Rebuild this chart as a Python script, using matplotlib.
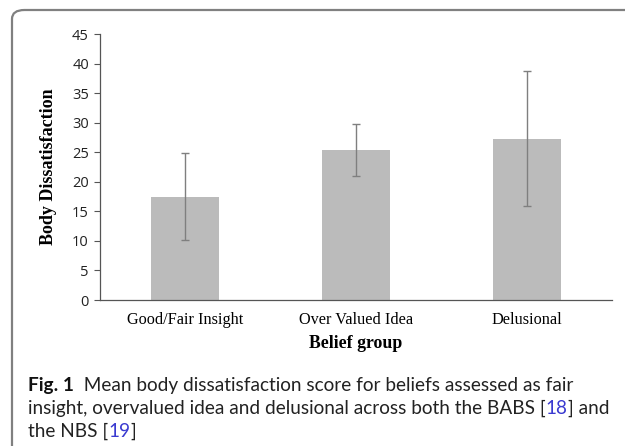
import matplotlib
matplotlib.use("Agg")
import matplotlib.pyplot as plt
from matplotlib.patches import FancyBboxPatch

categories = ["Good/Fair Insight", "Over Valued Idea", "Delusional"]
means = [17.5, 25.4, 27.3]
errors = [7.3, 4.4, 11.4]
yticks = [0, 5, 10, 15, 20, 25, 30, 35, 40, 45]

W, H = 625, 446
fig = plt.figure(figsize=(W / 100, H / 100), dpi=100)

def fx(px):
    return px / W

def fy(py):
    return 1 - py / H

# border box with rounded corner
box = FancyBboxPatch((fx(12), fy(480)), fx(700), (480 - 10) / H,
                     boxstyle="round,pad=0,rounding_size=0.02",
                     transform=fig.transFigure, fill=False,
                     edgecolor="#808080", linewidth=1.6, clip_on=False)
fig.patches.append(box)

ax = fig.add_axes([fx(100), fy(300), 512 / W, 266 / H])
x = range(len(categories))
ax.bar(x, means, width=0.4, color="#bbbbbb", zorder=2)
ax.errorbar(x, means, yerr=errors, fmt="none", ecolor="#7f7f7f",
            elinewidth=1.0, capsize=3, capthick=1.0, zorder=3)
ax.set_xlim(-0.5, 2.5)
ax.set_ylim(0, 45)
ax.set_yticks(yticks)
ax.set_yticklabels([str(t) for t in yticks], family="Open Sans", fontsize=10.5, color="#222222")
ax.set_xticks(list(x))
ax.set_xticklabels(categories, family="Liberation Serif", fontsize=11.7)
ax.tick_params(axis="x", length=0, pad=9)
ax.tick_params(axis="y", length=4, width=0.8, color="#555555", pad=4)
for s in ["top", "right"]:
    ax.spines[s].set_visible(False)
for s in ["left", "bottom"]:
    ax.spines[s].set_color("#555555")
    ax.spines[s].set_linewidth(0.9)
ax.set_ylabel("Body Dissatisfaction", family="Liberation Serif", fontweight="bold",
              fontsize=13, labelpad=11)
ax.set_xlabel("Belief group", family="Liberation Serif", fontweight="bold",
              fontsize=12.8, labelpad=5)

# caption
cap_font = "Lato"
cs = 13.7
txt = "#222222"
blue = "#3a3ad0"
t1 = fig.text(fx(28), fy(391), "Fig. 1", family=cap_font, fontweight="bold",
              fontsize=cs, va="baseline", color="#111111")
t2 = plt.annotate("  Mean body dissatisfaction score for beliefs assessed as fair",
                  xy=(1, 0), xycoords=t1, va="bottom", ha="left",
                  family=cap_font, fontsize=cs, color=txt)
l2 = fig.text(fx(28), fy(414), "insight, overvalued idea and delusional across both the BABS [",
              family=cap_font, fontsize=cs, va="baseline", color=txt)
l2b = plt.annotate("18", xy=(1, 0), xycoords=l2, va="bottom", ha="left",
                   family=cap_font, fontsize=cs, color=blue)
l2c = plt.annotate("] and", xy=(1, 0), xycoords=l2b, va="bottom", ha="left",
                   family=cap_font, fontsize=cs, color=txt)
l3 = fig.text(fx(28), fy(437), "the NBS [", family=cap_font, fontsize=cs,
              va="baseline", color=txt)
l3b = plt.annotate("19", xy=(1, 0), xycoords=l3, va="bottom", ha="left",
                   family=cap_font, fontsize=cs, color=blue)
l3c = plt.annotate("]", xy=(1, 0), xycoords=l3b, va="bottom", ha="left",
                   family=cap_font, fontsize=cs, color=txt)

fig.savefig("out.png", dpi=100)
